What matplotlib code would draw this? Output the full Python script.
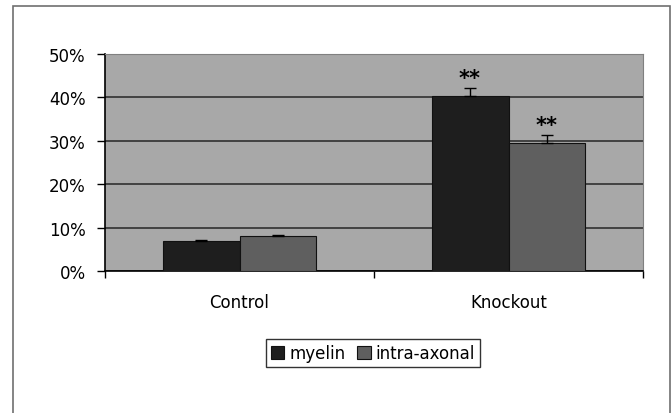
import matplotlib.pyplot as plt
import numpy as np
from matplotlib.patches import Rectangle
from matplotlib.ticker import FixedLocator, NullFormatter

plt.rcParams['font.family'] = ['DejaVu Sans']

groups = ['Control', 'Knockout']
myelin = [6.9, 40.3]
myelin_err = [0.3, 1.8]
intra = [8.0, 29.6]
intra_err = [0.3, 1.7]
stars = ['', '**']

FS = 12

fig = plt.figure(figsize=(6.71, 4.14), dpi=100)
# рамка вокруг всего рисунка
fig.patches.append(Rectangle((13/671, -0.1), (670-13)/671, 1.1 - 7/414, transform=fig.transFigure,
                             fill=False, edgecolor='#707070', linewidth=1.2))

ax = fig.add_axes([105/671, (414-272)/414, (643-105)/671, (272-55)/414])
ax.set_facecolor('#a8a8a8')

x = np.arange(len(groups))
w = 0.286
ax.bar(x - w/2, myelin, w, color='#1e1e1e', edgecolor='#111111', linewidth=0.8, label='myelin', zorder=3)
ax.bar(x + w/2, intra, w, color='#5f5f5f', edgecolor='#111111', linewidth=0.8, label='intra-axonal', zorder=3)
ax.errorbar(x - w/2, myelin, yerr=[np.zeros(2), myelin_err], fmt='none', ecolor='black',
            capsize=4, elinewidth=1, capthick=1, zorder=4)
ax.errorbar(x + w/2, intra, yerr=[np.zeros(2), intra_err], fmt='none', ecolor='black',
            capsize=4, elinewidth=1, capthick=1, zorder=4)

for i, s in enumerate(stars):
    if s:
        ax.text(x[i] - w/2, myelin[i] + myelin_err[i] + 0.1, s, ha='center', va='bottom',
                fontsize=15, fontweight='bold')
        ax.text(x[i] + w/2, intra[i] + intra_err[i] + 0.1, s, ha='center', va='bottom',
                fontsize=15, fontweight='bold')

ax.set_ylim(0, 50)
ax.set_xlim(-0.5, 1.5)
ax.set_yticks(np.arange(0, 51, 10))
ax.set_yticklabels([f'{v}%' for v in range(0, 51, 10)], fontsize=FS)
ax.yaxis.grid(True, color='#303030', linewidth=1.2, zorder=1)
ax.set_axisbelow(True)

ax.set_xticks(x)
ax.set_xticklabels(groups, fontsize=FS)
ax.tick_params(axis='x', length=0, pad=16)
ax.xaxis.set_minor_locator(FixedLocator([-0.5, 0.5, 1.5]))
ax.xaxis.set_minor_formatter(NullFormatter())
ax.tick_params(axis='x', which='minor', length=5, width=1, direction='out')
ax.tick_params(axis='y', length=6, width=1, direction='out', pad=8)

for side in ['top', 'right']:
    ax.spines[side].set_color('#808080')
for side in ['left', 'bottom']:
    ax.spines[side].set_color('black')
    ax.spines[side].set_linewidth(1.2)

leg = ax.legend(loc='center', bbox_to_anchor=(373/671, (414-354)/414), bbox_transform=fig.transFigure,
                ncol=2, fontsize=FS, frameon=True, fancybox=False, edgecolor='black',
                handlelength=0.8, handleheight=0.8, handletextpad=0.3, columnspacing=0.7,
                borderpad=0.3, borderaxespad=0)
leg.get_frame().set_linewidth(1.0)

plt.savefig('out.png', dpi=100)
